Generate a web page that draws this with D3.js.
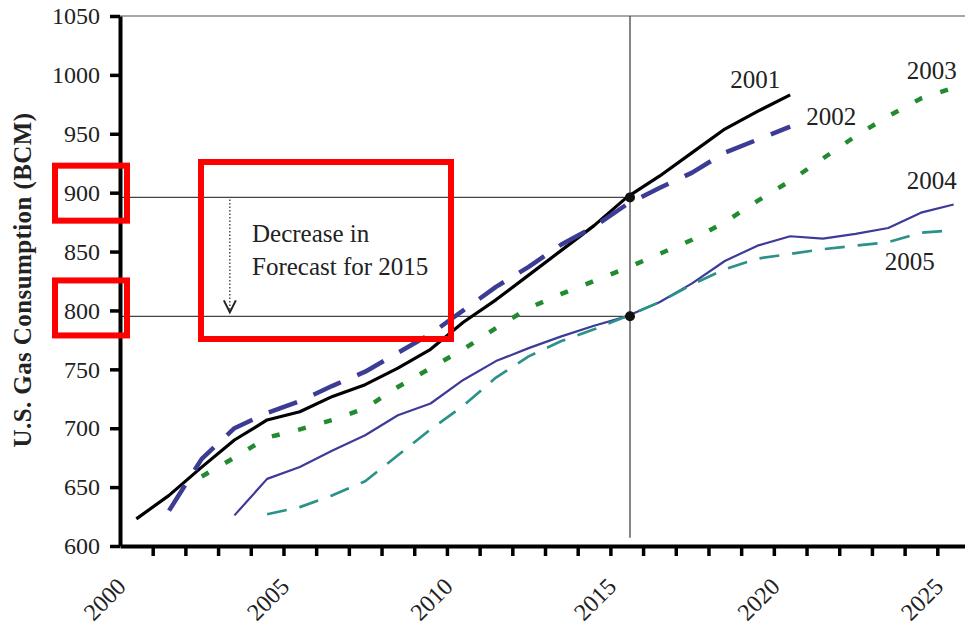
<!DOCTYPE html>
<meta charset="utf-8">
<style>
  body { margin: 0; background: #fff; }
  svg { display: block; font-family: "Liberation Serif", "Times New Roman", serif; }
  .axis .domain { stroke: #000; stroke-width: 4; }
  .axis .tick line { stroke: #000; stroke-width: 3.5; }
  .axis text { font-size: 24px; fill: #222; font-family: "Liberation Serif", serif; }
</style>
<body>
<script src="https://d3js.org/d3.v7.min.js"></script>
<script>
  // forecast vintages, values in BCM
  var years2001 = d3.range(2000, 2021);
  var vals2001 = [623, 643, 667, 690, 707, 714, 727, 737, 751, 767, 790, 809, 830, 851, 872, 896, 914, 934, 954, 969, 983];

  var years2002 = d3.range(2001, 2021);
  var vals2002 = [630, 674, 700, 713, 723, 736, 748, 764, 780, 800, 820, 837, 856, 871, 890, 904, 917, 934, 945, 956];

  var years2003 = d3.range(2002, 2026);
  var vals2003 = [659, 675, 692, 699, 707, 717, 735, 751, 767, 785, 802, 814, 825, 836, 848, 860, 875, 893, 910, 929, 948, 965, 980, 989];

  var years2004 = d3.range(2003, 2026);
  var vals2004 = [626, 657, 667, 681, 694, 711, 721, 741, 757, 768, 778, 787, 795, 807, 823, 842, 855, 863, 861, 865, 870, 883, 890];

  var years2005 = d3.range(2004, 2026);
  var vals2005 = [627, 633, 643, 655, 677, 699, 719, 743, 761, 774, 784, 795, 807, 822, 835, 844, 848, 852, 855, 858, 866, 868];

  var yTicks = d3.range(600, 1051, 50);
  var xLabelYears = [2000, 2005, 2010, 2015, 2020, 2025];

  // the 2015 comparison
  var markYear = 2015.6;
  var mark2001 = 896, mark2005 = 795;

  var series = [
    { name: "2001", years: years2001, vals: vals2001, color: "#000", width: 3.2, dash: null,
      label: { dx: -10, dy: -7, anchor: "end" } },
    { name: "2002", years: years2002, vals: vals2002, color: "#3c3c94", width: 4.5, dash: "30,18",
      label: { dx: 16, dy: -2, anchor: "start" } },
    { name: "2003", years: years2003, vals: vals2003, color: "#238b2f", width: 4.5, dash: "8,19",
      label: { dx: 3, dy: -9, anchor: "end" } },
    { name: "2004", years: years2004, vals: vals2004, color: "#3d3a99", width: 2.2, dash: null,
      label: { dx: 3, dy: -15, anchor: "end" } },
    { name: "2005", years: years2005, vals: vals2005, color: "#2a9288", width: 2.7, dash: "20,13",
      label: { dx: -19, dy: 40, anchor: "end" } }
  ];

  var width = 965, height = 626;
  var serif = "'Liberation Serif', 'Times New Roman', serif";

  var svg = d3.select("body").append("svg")
    .attr("width", width)
    .attr("height", height);

  // category axis: each year occupies one slot, points sit mid-slot
  var x = d3.scaleLinear().domain([2000, 2026]).range([120, 970]);
  var y = d3.scaleLinear().domain([600, 1050]).range([546, 16]);
  var cx = function (yr) { return x(yr + 0.5); };
  var markX = x(markYear);

  // top frame line
  svg.append("line")
    .attr("x1", x(2000)).attr("x2", width)
    .attr("y1", y(1050)).attr("y2", y(1050))
    .attr("stroke", "#8a8a8a").attr("stroke-width", 1.5);

  // reference lines for 2015
  svg.append("line")
    .attr("x1", markX).attr("x2", markX)
    .attr("y1", y(1050)).attr("y2", y(607))
    .attr("stroke", "#444").attr("stroke-width", 1.3);

  [mark2001, mark2005].forEach(function (v) {
    svg.append("line")
      .attr("x1", x(2000)).attr("x2", markX)
      .attr("y1", y(v)).attr("y2", y(v))
      .attr("stroke", "#444").attr("stroke-width", 1.3);
  });

  // axes
  var yAxis = svg.append("g")
    .attr("class", "axis")
    .attr("transform", "translate(" + x(2000) + ",0)")
    .call(d3.axisLeft(y).tickValues(yTicks).tickSize(10).tickSizeOuter(0).tickPadding(10)
      .tickFormat(d3.format("d")));
  yAxis.attr("font-family", null).attr("font-size", null);
  yAxis.selectAll("text")
    .attr("font-family", serif)
    .attr("font-size", 24)
    .attr("fill", "#222");

  svg.append("g")
    .attr("class", "axis")
    .attr("transform", "translate(0," + y(600) + ")")
    .call(d3.axisBottom(x).tickValues(d3.range(2001, 2027)).tickSize(10).tickSizeOuter(0).tickFormat(""));

  svg.selectAll(".xlabel")
    .data(xLabelYears)
    .enter().append("text")
    .attr("class", "xlabel")
    .attr("transform", function (d) { return "translate(" + (cx(d) - 9) + ",588) rotate(-45)"; })
    .attr("text-anchor", "end")
    .attr("font-family", serif)
    .attr("font-size", 24)
    .attr("fill", "#222")
    .text(function (d) { return d; });

  svg.append("text")
    .attr("transform", "translate(31,280) rotate(-90)")
    .attr("text-anchor", "middle")
    .attr("font-family", serif)
    .attr("font-size", 25)
    .attr("font-weight", "bold")
    .attr("letter-spacing", 0.4)
    .attr("fill", "#222")
    .text("U.S. Gas Consumption (BCM)");

  // forecast lines
  var line = d3.line()
    .x(function (d) { return cx(d[0]); })
    .y(function (d) { return y(d[1]); });

  series.forEach(function (s) {
    var pts = s.years.map(function (yr, i) { return [yr, s.vals[i]]; });
    svg.append("path")
      .datum(pts)
      .attr("fill", "none")
      .attr("stroke", s.color)
      .attr("stroke-width", s.width)
      .attr("stroke-dasharray", s.dash)
      .attr("stroke-linejoin", "round")
      .attr("d", line);

    var last = pts[pts.length - 1];
    svg.append("text")
      .attr("x", cx(last[0]) + s.label.dx)
      .attr("y", y(last[1]) + s.label.dy)
      .attr("text-anchor", s.label.anchor)
      .attr("font-family", serif)
      .attr("font-size", 25)
      .attr("fill", "#222")
      .text(s.name);
  });

  svg.selectAll(".mark")
    .data([mark2001, mark2005])
    .enter().append("circle")
    .attr("cx", markX)
    .attr("cy", function (d) { return y(d); })
    .attr("r", 5)
    .attr("fill", "#111");

  // dotted arrow with note
  var ax = x(2003.36);
  svg.append("line")
    .attr("x1", ax).attr("x2", ax)
    .attr("y1", y(mark2001) + 2).attr("y2", y(mark2005) - 4)
    .attr("stroke", "#222").attr("stroke-width", 1.2)
    .attr("stroke-dasharray", "1.5,2");
  svg.append("path")
    .attr("d", "M" + (ax - 6) + "," + (y(mark2005) - 16) + "L" + ax + "," + (y(mark2005) - 4) +
      "L" + (ax + 6) + "," + (y(mark2005) - 16))
    .attr("fill", "none").attr("stroke", "#222").attr("stroke-width", 2);

  var note = svg.append("text")
    .attr("font-family", serif)
    .attr("font-size", 25)
    .attr("fill", "#222");
  note.append("tspan").attr("x", 252).attr("y", 242).text("Decrease in");
  note.append("tspan").attr("x", 252).attr("y", 275).text("Forecast for 2015");

  // red highlight boxes
  var red = svg.append("g")
    .attr("fill", "none")
    .attr("stroke", "#ff0000")
    .attr("stroke-width", 6);
  red.append("rect")
    .attr("x", 55).attr("width", 72)
    .attr("y", y(900) - 27).attr("height", 55);
  red.append("rect")
    .attr("x", 55).attr("width", 72)
    .attr("y", y(800) - 30).attr("height", 55);
  red.append("rect")
    .attr("x", 201).attr("y", 162)
    .attr("width", 250).attr("height", 177);
</script>
</body>
